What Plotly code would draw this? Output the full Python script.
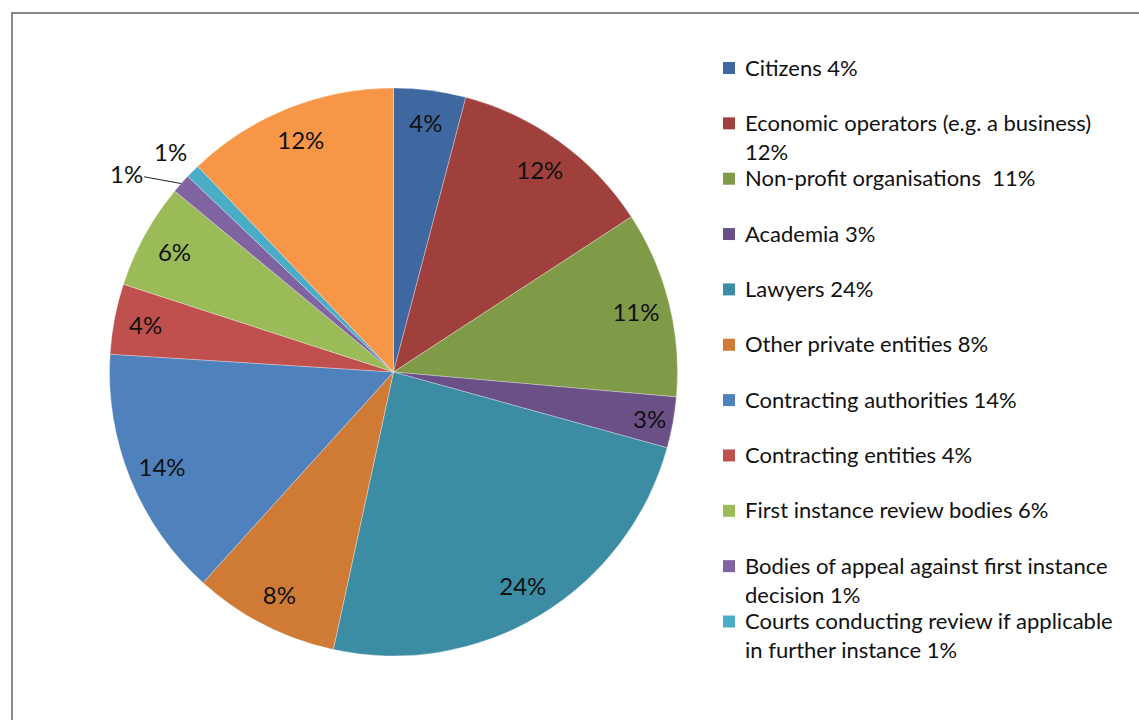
import numpy as np
import plotly.graph_objects as go

# ---- data ----
categories = [
    "Citizens", "Economic operators (e.g. a business)", "Non-profit organisations",
    "Academia", "Lawyers", "Other private entities", "Contracting authorities",
    "Contracting entities", "First instance review bodies",
    "Bodies of appeal against first instance decision",
    "Courts conducting review if applicable in further instance", "Other",
]
values = [4.1, 11.7, 10.6, 2.9, 24.1, 8.3, 14.3, 4.0, 6.0, 1.1, 0.8, 12.1]
legend_labels = [
    "Citizens 4%",
    "Economic operators (e.g. a business)<br>12%",
    "Non-profit organisations  11%",
    "Academia 3%",
    "Lawyers 24%",
    "Other private entities 8%",
    "Contracting authorities 14%",
    "Contracting entities 4%",
    "First instance review bodies 6%",
    "Bodies of appeal against first instance<br>decision 1%",
    "Courts conducting review if applicable<br>in further instance 1%",
]
colors = ["#3F67A0", "#A0403D", "#7F9B48", "#6A5087", "#3C8DA4", "#CF7B35",
          "#4F81BD", "#C0504D", "#9BBB59", "#8064A2", "#4BACC6", "#F79646"]

W, H = 1139, 720
FONT = "Lato"
LEG_SIZE = 22
LBL_SIZE = 24

# pie geometry in pixels
cx, cy, R = 393.5, 372.0, 284.0
dom_x = [(cx - R) / W, (cx + R) / W]
dom_y = [1 - (cy + R) / H, 1 - (cy - R) / H]

fig = go.Figure()
fig.add_trace(go.Pie(
    labels=categories, values=values, sort=False, direction="clockwise",
    rotation=0, marker=dict(colors=colors, line=dict(color="rgba(255,255,255,0.5)", width=0.6)),
    textinfo="none", showlegend=False, domain=dict(x=dom_x, y=dom_y),
    hoverinfo="label+percent",
))
pos = ["inside"] * len(values)
for i, v in enumerate(values):
    if v < 2:
        pos[i] = "none"
fig.add_trace(go.Pie(
    labels=categories, values=values, sort=False, direction="clockwise",
    rotation=0, hole=0.76,
    marker=dict(colors=["rgba(0,0,0,0)"] * len(values), line=dict(width=0)),
    texttemplate="%{percent:.0%}", textposition=pos,
    insidetextorientation="horizontal",
    textfont=dict(family=FONT, size=LBL_SIZE, color="#111111"),
    showlegend=False, domain=dict(x=dom_x, y=dom_y), hoverinfo="skip",
))

annotations = []
shapes = []

# outside labels for the small slices
vals = np.array(values)
cum = np.cumsum(vals) / vals.sum()
start = np.concatenate([[0], cum[:-1]])
mid = (start + cum) / 2 * 2 * np.pi
for i, v in enumerate(values):
    if v >= 2:
        continue
    px = cx + R * np.sin(mid[i])
    py = cy - R * np.cos(mid[i])
    txt = f"{round(v / vals.sum() * 100):.0f}%"
    if i == 9:
        annotations.append(dict(
            x=px / W, y=1 - py / H, xref="paper", yref="paper", text=txt,
            showarrow=True, arrowhead=0, arrowwidth=1, arrowcolor="#222222",
            ax=-55, ay=-10, font=dict(family=FONT, size=LBL_SIZE, color="#111111"),
        ))
    else:
        annotations.append(dict(
            x=px / W, y=1 - py / H, xref="paper", yref="paper", text=txt,
            showarrow=False, xshift=-22, yshift=20, xanchor="center", yanchor="middle",
            font=dict(family=FONT, size=LBL_SIZE, color="#111111"),
        ))

# manual legend (the last slice has no legend entry)
leg_y0, leg_step, line_step = 67.0, 55.35, 29.0
for i, lab in enumerate(legend_labels):
    yc = leg_y0 + i * leg_step
    shapes.append(dict(type="rect", xref="paper", yref="paper",
                       x0=723 / W, x1=735 / W, y0=1 - (yc + 7) / H, y1=1 - (yc - 5) / H,
                       fillcolor=colors[i], line=dict(width=0)))
    for j, line in enumerate(lab.split("<br>")):
        annotations.append(dict(
            x=743 / W, y=1 - (yc + j * line_step) / H, xref="paper", yref="paper",
            xanchor="left", yanchor="middle", text=line, showarrow=False,
            font=dict(family=FONT, size=LEG_SIZE, color="#111111"),
        ))

# chart frame
shapes.append(dict(type="rect", xref="paper", yref="paper",
                   x0=12 / W, x1=1.05, y0=-0.05, y1=1 - 13 / H,
                   line=dict(color="#888888", width=2), fillcolor="rgba(0,0,0,0)"))

fig.update_layout(
    width=W, height=H, margin=dict(l=0, r=0, t=0, b=0),
    paper_bgcolor="white", plot_bgcolor="white",
    annotations=annotations, shapes=shapes,
    uniformtext=dict(minsize=LBL_SIZE, mode="show"),
    font=dict(family=FONT),
)
fig.write_html("out.html", config={"displayModeBar": False},
               post_script="document.body.style.margin='0px';document.body.style.overflow='hidden';")
